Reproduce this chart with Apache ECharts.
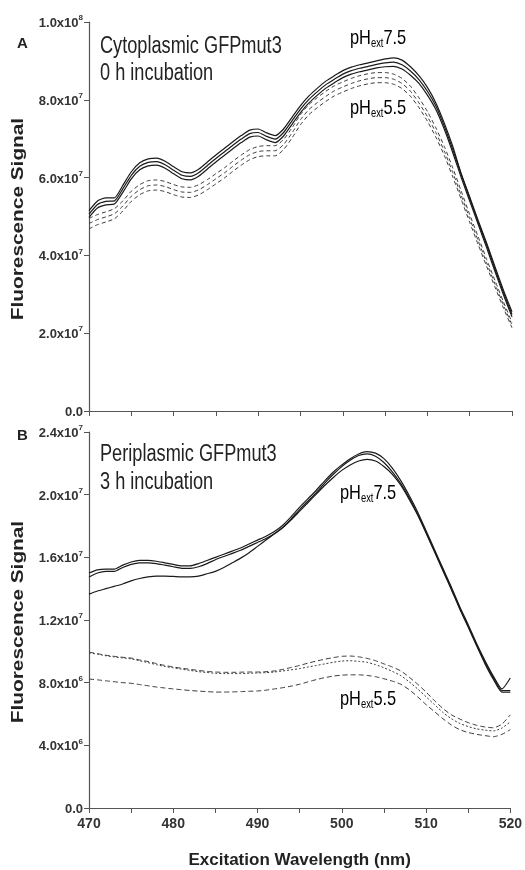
<!DOCTYPE html>
<html><head><meta charset="utf-8">
<script src="https://cdn.jsdelivr.net/npm/echarts@6/dist/echarts.min.js"></script>
<style>html,body{margin:0;padding:0;background:#fff}#c{width:525px;height:870px}</style>
</head><body><div id="c"></div>
<script>
// Wavelengths (nm)
const wavelength = [470,471,472,473,474,475,476,477,478,479,480,481,482,483,484,485,486,487,488,489,490,491,492,493,494,495,496,497,498,499,500,501,502,503,504,505,506,507,508,509,510,511,512,513,514,515,516,517,518,519,520];
// Panel A (units of 1e7)
const cytoPH75_a = [5.15,5.40,5.48,5.48,5.80,6.15,6.38,6.48,6.50,6.42,6.28,6.15,6.12,6.22,6.40,6.58,6.75,6.92,7.08,7.22,7.25,7.15,7.08,7.25,7.55,7.85,8.10,8.30,8.48,8.62,8.75,8.84,8.90,8.95,9.00,9.05,9.08,9.02,8.85,8.62,8.32,7.92,7.40,6.80,6.10,5.50,4.90,4.32,3.70,3.10,2.55];
const cytoPH75_b = [5.06,5.31,5.39,5.40,5.71,6.06,6.29,6.39,6.41,6.33,6.19,6.06,6.03,6.13,6.31,6.49,6.66,6.83,6.99,7.13,7.16,7.06,6.99,7.16,7.46,7.76,8.01,8.21,8.39,8.53,8.66,8.75,8.81,8.86,8.91,8.95,8.97,8.90,8.74,8.52,8.22,7.84,7.32,6.72,6.08,5.47,4.86,4.27,3.64,3.04,2.48];
const cytoPH75_c = [4.98,5.22,5.30,5.32,5.62,5.97,6.20,6.30,6.32,6.24,6.10,5.97,5.94,6.04,6.22,6.40,6.57,6.74,6.90,7.04,7.07,6.97,6.90,7.07,7.37,7.67,7.92,8.12,8.30,8.44,8.57,8.66,8.72,8.77,8.82,8.85,8.86,8.79,8.63,8.42,8.12,7.75,7.24,6.64,6.00,5.40,4.80,4.20,3.58,2.98,2.42];
const cytoPH55_a = [4.95,5.05,5.12,5.20,5.40,5.65,5.82,5.92,5.94,5.90,5.82,5.76,5.75,5.82,5.95,6.10,6.25,6.42,6.58,6.72,6.80,6.82,6.82,6.98,7.28,7.62,7.88,8.06,8.22,8.36,8.46,8.55,8.62,8.67,8.70,8.70,8.66,8.55,8.35,8.05,7.70,7.28,6.80,6.25,5.65,5.05,4.48,3.90,3.35,2.80,2.28];
const cytoPH55_b = [4.82,4.92,4.99,5.07,5.27,5.52,5.69,5.79,5.81,5.77,5.69,5.63,5.62,5.69,5.82,5.97,6.12,6.29,6.45,6.59,6.67,6.69,6.69,6.85,7.15,7.49,7.75,7.93,8.09,8.23,8.33,8.42,8.49,8.54,8.57,8.57,8.53,8.42,8.22,7.92,7.57,7.16,6.68,6.13,5.54,4.95,4.38,3.81,3.26,2.72,2.21];
const cytoPH55_c = [4.68,4.79,4.86,4.94,5.14,5.39,5.56,5.66,5.68,5.64,5.56,5.50,5.49,5.56,5.69,5.84,5.99,6.16,6.32,6.46,6.54,6.56,6.56,6.72,7.02,7.36,7.62,7.80,7.96,8.10,8.20,8.29,8.36,8.41,8.44,8.44,8.40,8.29,8.09,7.80,7.45,7.04,6.57,6.02,5.44,4.85,4.28,3.72,3.18,2.64,2.14];
// Panel B (units of 1e6)
const periPH75_a = [15.0,15.2,15.25,15.25,15.5,15.7,15.8,15.8,15.75,15.65,15.55,15.45,15.45,15.6,15.8,16.0,16.2,16.4,16.6,16.85,17.1,17.35,17.65,18.05,18.6,19.2,19.75,20.3,20.9,21.45,21.9,22.3,22.6,22.75,22.65,22.3,21.7,20.9,19.95,18.9,17.7,16.5,15.3,14.1,12.85,11.7,10.5,9.4,8.4,7.6,8.3];
const periPH75_b = [14.75,15.0,15.1,15.1,15.35,15.55,15.65,15.65,15.6,15.5,15.4,15.3,15.3,15.4,15.6,15.85,16.05,16.25,16.45,16.7,16.95,17.2,17.5,17.9,18.45,19.05,19.6,20.15,20.75,21.3,21.8,22.2,22.5,22.6,22.45,22.05,21.45,20.7,19.8,18.75,17.6,16.4,15.2,14.0,12.75,11.6,10.4,9.3,8.3,7.5,7.5];
const periPH75_c = [13.65,13.85,14.0,14.15,14.3,14.5,14.65,14.75,14.8,14.8,14.78,14.75,14.75,14.8,14.95,15.1,15.35,15.65,15.95,16.3,16.7,17.1,17.5,17.9,18.4,18.95,19.5,20.05,20.6,21.1,21.55,21.9,22.15,22.25,22.15,21.8,21.3,20.6,19.7,18.7,17.55,16.35,15.15,13.95,12.7,11.55,10.35,9.2,8.2,7.4,7.4];
const periPH55_a = [9.95,9.85,9.75,9.68,9.62,9.57,9.45,9.35,9.22,9.1,9.0,8.92,8.85,8.78,8.72,8.68,8.66,8.66,8.67,8.68,8.68,8.7,8.75,8.85,8.97,9.1,9.25,9.38,9.5,9.6,9.68,9.7,9.65,9.55,9.4,9.2,9.0,8.75,8.35,7.9,7.4,6.85,6.35,5.95,5.68,5.45,5.28,5.17,5.12,5.35,5.95];
const periPH55_b = [9.9,9.82,9.72,9.64,9.58,9.52,9.4,9.28,9.15,9.03,8.95,8.86,8.78,8.7,8.65,8.6,8.58,8.58,8.58,8.6,8.62,8.64,8.68,8.75,8.82,8.9,9.0,9.1,9.2,9.3,9.38,9.4,9.36,9.3,9.15,8.95,8.72,8.45,8.05,7.6,7.1,6.6,6.1,5.7,5.4,5.2,5.05,4.97,4.92,5.1,5.5];
const periPH55_c = [8.23,8.18,8.12,8.06,8.0,7.96,7.88,7.8,7.72,7.66,7.6,7.55,7.5,7.46,7.43,7.4,7.4,7.41,7.43,7.45,7.47,7.52,7.6,7.68,7.78,7.9,8.05,8.2,8.32,8.42,8.48,8.5,8.5,8.46,8.38,8.25,8.1,7.9,7.55,7.1,6.6,6.15,5.7,5.3,5.0,4.82,4.7,4.62,4.55,4.7,5.0];
// Tick settings
const xTicks = {min:470, max:520, interval:5};
const yTicksA = {min:0, max:1.0e8, interval:2.0e7};
const yTicksB = {min:0, max:2.4e7, interval:4.0e6};

const FONT = "'Liberation Sans', Arial, sans-serif";

function sci(v){
  if (Math.abs(v) < 1e-9) return '{n|0.0}';
  const e = Math.floor(Math.log10(v) + 1e-9);
  const m = (v / Math.pow(10, e)).toFixed(1);
  return '{n|' + m + 'x10}{s|' + e + '}';
}
const yRich = {
  n:{fontFamily:FONT, fontWeight:'bold', fontSize:13, color:'#333', lineHeight:16, verticalAlign:'bottom'},
  s:{fontFamily:FONT, fontWeight:'bold', fontSize:8, color:'#333', lineHeight:16, verticalAlign:'top', padding:[0,0,10,0]}
};
function mk(scale, arr){ return arr.map((v,i)=>[wavelength[i], v*scale]); }

function line(name, data, xi, dash){
  return {
    name, type:'line', xAxisIndex:xi, yAxisIndex:xi, data, showSymbol:false, smooth:0.2, silent:true,
    lineStyle:{color: dash ? '#3a3a3a' : '#1a1a1a', width: dash ? 1 : 1.2, type: dash || 'solid'}
  };
}
const phRich = {
  a:{fontFamily:FONT, fontSize:21, color:'#222'},
  b:{fontFamily:FONT, fontSize:12, color:'#222', padding:[12,0,0,0]}
};
function phLabel(x, y, val){
  return {type:'text', x, y, scaleX:0.78, style:{rich:phRich, text:'{a|pH}{b|ext}{a|'+val+'}', verticalAlign:'top'}};
}

const axisLineStyle = {lineStyle:{color:'#555', width:1.2}};
const option = {
  animation:false,
  backgroundColor:'#fff',
  grid:[
    {left:89, right:13, top:22, height:389},
    {left:89, right:13, top:432, height:376}
  ],
  xAxis:[
    {type:'value', gridIndex:0, min:xTicks.min, max:xTicks.max, interval:xTicks.interval,
     axisLine:axisLineStyle, axisTick:{show:true, inside:false, length:5, lineStyle:{color:'#555'}},
     axisLabel:{show:false}, splitLine:{show:false}},
    {type:'value', gridIndex:1, min:xTicks.min, max:xTicks.max, interval:xTicks.interval,
     axisLine:axisLineStyle, axisTick:{show:true, inside:false, length:5, lineStyle:{color:'#555'}},
     axisLabel:{fontFamily:FONT, fontWeight:'bold', fontSize:14, color:'#333', margin:9,
       formatter:v => (v % 10 === 0 ? String(v) : '')},
     splitLine:{show:false},
     name:'Excitation Wavelength (nm)', nameLocation:'middle', nameGap:44,
     nameTextStyle:{fontFamily:FONT, fontWeight:'bold', fontSize:17, color:'#222'}}
  ],
  yAxis:[
    {type:'value', gridIndex:0, min:yTicksA.min, max:yTicksA.max, interval:yTicksA.interval,
     axisLine:{show:true, lineStyle:{color:'#555', width:1.2}}, axisTick:{show:true, length:5, lineStyle:{color:'#555'}},
     axisLabel:{formatter:sci, rich:yRich, margin:6}, splitLine:{show:false}},
    {type:'value', gridIndex:1, min:yTicksB.min, max:yTicksB.max, interval:yTicksB.interval,
     axisLine:{show:true, lineStyle:{color:'#555', width:1.2}}, axisTick:{show:true, length:5, lineStyle:{color:'#555'}},
     axisLabel:{formatter:sci, rich:yRich, margin:6}, splitLine:{show:false}}
  ],
  series:[
    line('A pH7.5 a', mk(1e7, cytoPH75_a), 0, null),
    line('A pH7.5 b', mk(1e7, cytoPH75_b), 0, null),
    line('A pH7.5 c', mk(1e7, cytoPH75_c), 0, null),
    line('A pH5.5 a', mk(1e7, cytoPH55_a), 0, [4,3]),
    line('A pH5.5 b', mk(1e7, cytoPH55_b), 0, [4,3]),
    line('A pH5.5 c', mk(1e7, cytoPH55_c), 0, [4,3]),
    line('B pH7.5 a', mk(1e6, periPH75_a), 1, null),
    line('B pH7.5 b', mk(1e6, periPH75_b), 1, null),
    line('B pH7.5 c', mk(1e6, periPH75_c), 1, null),
    line('B pH5.5 a', mk(1e6, periPH55_a), 1, [5,3]),
    line('B pH5.5 b', mk(1e6, periPH55_b), 1, [2,2]),
    line('B pH5.5 c', mk(1e6, periPH55_c), 1, [5,3])
  ],
  graphic:[
    {type:'text', x:17, y:36, style:{text:'A', font:"bold 15px "+FONT, fill:'#222', verticalAlign:'top'}},
    {type:'text', x:17, y:428, style:{text:'B', font:"bold 15px "+FONT, fill:'#222', verticalAlign:'top'}},
    {type:'text', x:100, y:33, scaleX:0.79, style:{text:'Cytoplasmic GFPmut3\n0 h incubation', font:"23px "+FONT, fill:'#222', lineHeight:27, verticalAlign:'top'}},
    {type:'text', x:100, y:441, scaleX:0.79, style:{text:'Periplasmic GFPmut3\n3 h incubation', font:"23px "+FONT, fill:'#222', lineHeight:28, verticalAlign:'top'}},
    {type:'text', x:19, y:219, rotation:Math.PI/2, scaleX:1.3, style:{text:'Fluorescence Signal', font:"bold 16px "+FONT, fill:'#222', align:'center', verticalAlign:'middle'}},
    {type:'text', x:19, y:622, rotation:Math.PI/2, scaleX:1.3, style:{text:'Fluorescence Signal', font:"bold 16px "+FONT, fill:'#222', align:'center', verticalAlign:'middle'}},
    phLabel(350, 26, '7.5'),
    phLabel(350, 96, '5.5'),
    phLabel(340, 481, '7.5'),
    phLabel(340, 687, '5.5')
  ]
};
const chart = echarts.init(document.getElementById('c'), null, {renderer:'canvas'});
chart.setOption(option);
</script></body></html>
